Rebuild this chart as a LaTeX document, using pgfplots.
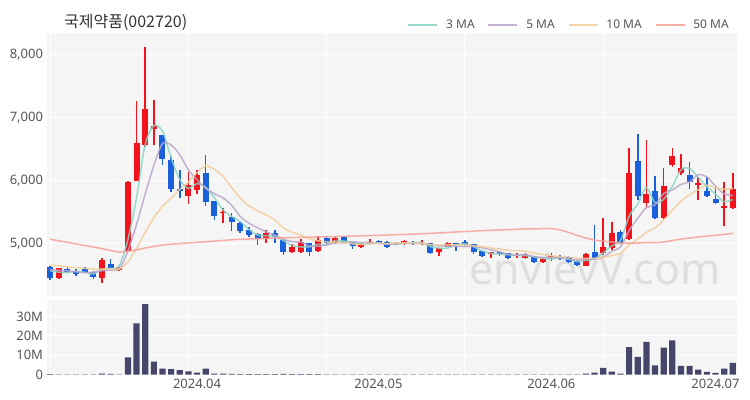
\documentclass[border=0pt]{standalone}
\usepackage{pgfplots}
\pgfplotsset{compat=1.18}
\usepackage{pgfplotstable}
\usepackage{fontspec}
\setmainfont{Noto Sans}
\newfontfamily\krfont{Noto Sans CJK KR}

\definecolor{upred}{HTML}{F2131C}
\definecolor{downblue}{HTML}{1A5FDB}
\definecolor{volbar}{HTML}{46466B}
\definecolor{panel}{HTML}{F5F5F5}
\definecolor{ticktext}{HTML}{555555}
\definecolor{titletext}{HTML}{333333}
\definecolor{wmark}{HTML}{DEDEDE}
\definecolor{maA}{HTML}{86D3C4}
\definecolor{maB}{HTML}{B9A4CA}
\definecolor{maC}{HTML}{F2CE9A}
\definecolor{maD}{HTML}{F6A096}

% daily candles: index, open, high, low, close, volume (millions)
\pgfplotstableread{
i o h l c v
0 4620 4640 4420 4450 0.15
1 4445 4610 4425 4600 0.12
2 4590 4620 4540 4550 0.08
3 4560 4590 4485 4515 0.08
4 4590 4620 4520 4550 0.08
5 4550 4560 4425 4470 0.10
6 4450 4760 4375 4730 0.50
7 4665 4745 4590 4600 0.30
8 4580 4620 4560 4600 0.10
9 4880 5990 4870 5980 8.9
10 5995 7270 5990 6600 26.5
11 6565 8130 6540 7140 36.6
12 6815 7280 6565 6870 6.7
13 6725 6730 6250 6350 3.0
14 6330 6390 5810 5865 2.8
15 5860 6165 5720 5830 2.3
16 5755 6140 5630 5930 1.6
17 5850 6165 5780 6090 1.0
18 6125 6405 5600 5660 3.0
19 5670 5680 5375 5435 0.4
20 5480 5560 5330 5500 0.4
21 5415 5480 5200 5345 0.3
22 5320 5340 5170 5195 0.2
23 5210 5265 5105 5130 0.2
24 5150 5160 4975 5065 0.2
25 5065 5210 5010 5170 0.2
26 5170 5210 5000 5095 0.2
27 5055 5060 4815 4865 0.3
28 4865 4990 4850 4935 0.15
29 4865 5065 4850 5025 0.2
30 5000 5010 4800 4865 0.2
31 4880 5110 4860 5055 0.2
32 5080 5115 4970 5000 0.1
33 5000 5100 4990 5080 0.1
34 5095 5110 5010 5025 0.1
35 5025 5030 4905 4955 0.1
36 4935 5000 4930 4990 0.08
37 5000 5065 4990 5025 0.08
38 5040 5050 4990 5000 0.06
39 5025 5030 4935 4945 0.06
40 4985 5020 4980 5005 0.05
41 4990 5055 4980 5040 0.06
42 5010 5040 4975 4985 0.05
43 4985 5055 4980 5010 0.05
44 5000 5010 4830 4840 0.1
45 4860 4925 4800 4920 0.08
46 4945 5020 4940 5010 0.06
47 5000 5005 4875 4990 0.05
48 5025 5055 4965 4975 0.05
49 4985 4990 4830 4865 0.08
50 4875 4880 4795 4800 0.08
51 4825 4865 4770 4855 0.06
52 4865 4870 4800 4830 0.05
53 4840 4850 4750 4770 0.06
54 4790 4840 4765 4815 0.05
55 4770 4850 4750 4825 0.06
56 4790 4795 4700 4705 0.07
57 4700 4760 4680 4750 0.06
58 4775 4840 4718 4790 0.08
59 4780 4810 4740 4760 0.05
60 4775 4790 4695 4705 0.06
61 4720 4730 4640 4655 0.08
62 4640 4840 4630 4825 0.4
63 4860 5290 4750 4770 1.0
64 4840 5400 4810 4945 3.4
65 4920 5340 4890 5170 1.5
66 5185 5210 5000 5010 0.5
67 5065 6510 5050 6115 14.2
68 6315 6740 5690 5755 9.2
69 5645 6645 5560 5785 17.0
70 5835 6070 5380 5400 4.7
71 5400 6195 5380 5915 14.0
72 6245 6510 6220 6390 17.7
73 6125 6430 6090 6205 4.5
74 6090 6300 5860 5980 4.5
75 5930 6060 5690 5965 2.5
76 5840 6060 5735 5755 1.3
77 5700 5910 5625 5635 0.9
78 5560 5980 5275 5595 3.1
79 5555 6125 5550 5860 6.0
}\candles

% moving averages of the close
\pgfplotstableread{
i ma3 ma5 ma10 ma50
0 4560 4580 4650 5065
1 4540 4570 4640 5040
2 4533 4560 4625 5015
3 4555 4545 4610 4990
4 4538 4533 4600 4965
5 4512 4537 4590 4940
6 4583 4563 4590 4915
7 4600 4573 4590 4885
8 4643 4590 4590 4860
9 5060 4876 4705 4870
10 5727 5302 4920 4895
11 6573 5784 5174 4925
12 6870 6238 5406 4950
13 6787 6588 5589 4970
14 6362 6565 5721 4985
15 6015 6411 5857 4995
16 5875 6169 5977 5005
17 5950 6013 6126 5015
18 5893 5875 6232 5025
19 5728 5789 6177 5035
20 5532 5723 6067 5045
21 5427 5606 5888 5055
22 5347 5427 5720 5062
23 5223 5321 5598 5068
24 5130 5247 5518 5073
25 5122 5181 5452 5078
26 5110 5131 5369 5082
27 5043 5065 5246 5086
28 4965 5026 5174 5090
29 4942 5018 5133 5094
30 4942 4957 5069 5097
31 4982 4949 5040 5100
32 4973 4976 5021 5104
33 5045 5005 5016 5107
34 5035 5005 5012 5111
35 5020 5023 4990 5115
36 4990 5010 4980 5119
37 4990 5015 4996 5123
38 5005 4999 5002 5127
39 4990 4983 4994 5131
40 4983 4993 5008 5136
41 4997 5003 5007 5141
42 5010 4995 5005 5146
43 5012 4997 4998 5152
44 4945 4976 4980 5158
45 4923 4959 4976 5165
46 4923 4953 4978 5172
47 4973 4954 4975 5180
48 4992 4947 4972 5187
49 4943 4952 4964 5194
50 4880 4928 4944 5201
51 4840 4897 4925 5207
52 4828 4865 4910 5212
53 4818 4824 4886 5217
54 4805 4814 4883 5223
55 4803 4819 4874 5230
56 4782 4789 4843 5229
57 4760 4773 4819 5232
58 4748 4777 4801 5236
59 4767 4766 4790 5212
60 4752 4742 4781 5174
61 4707 4732 4761 5124
62 4728 4747 4760 5083
63 4750 4743 4760 5051
64 4847 4780 4773 5033
65 4962 4873 4808 5020
66 5042 4944 4838 5001
67 5432 5202 4975 5002
68 5627 5399 5071 5004
69 5885 5567 5174 5011
70 5647 5613 5243 5009
71 5700 5794 5369 5020
72 5902 5849 5526 5044
73 6170 5939 5669 5066
74 6192 5978 5773 5084
75 6050 6091 5852 5100
76 5900 6059 5927 5113
77 5785 5908 5879 5128
78 5662 5786 5863 5142
79 5697 5762 5870 5158
}\mavg

\pgfplotsset{
  panelbase/.style={
    scale only axis, width=690bp, anchor=south west,
    xmin=-0.4, xmax=79.45,
    axis background/.style={fill=panel},
    axis line style={draw=none},
    major tick length=0pt,
    tick style={draw=none},
    ymajorgrids,
    grid style={white, line width=1bp},
    extra x ticks={0,16,32,48,64},
    extra x tick labels={},
    extra x tick style={grid=major},
    ticklabel style={font=\fontsize{13bp}{15bp}\selectfont, text=ticktext},
    yticklabel style={anchor=east, inner sep=0pt, xshift=-3.5bp},
    /pgf/number format/assume math mode=true,
  },
  wick/.style={draw=none, forget plot,
    error bars/y dir=both, error bars/y explicit, error bars/error mark=none,
    error bars/error bar style={draw=#1, line width=1.6bp}},
  body/.style={draw=none, forget plot,
    error bars/y dir=both, error bars/y explicit, error bars/error mark=none,
    error bars/error bar style={draw=#1, line width=6bp}},
}

\begin{document}
\begin{tikzpicture}
\path (0,0) rectangle (750bp,400bp);

\node[anchor=west, inner sep=0pt, text=titletext,
      font=\krfont\fontsize{16bp}{18bp}\selectfont] at (64bp,377.3bp) {국제약품(002720)};

% price panel
\begin{axis}[panelbase, at={(46.7bp,104bp)}, height=262.7bp,
  ymin=4160, ymax=8345, ytick={5000,6000,7000,8000},
  xtick=\empty, scaled y ticks=false,
  /pgf/number format/1000 sep={,},
  legend columns=4,
  legend style={at={(0.9917,1.0316)}, anchor=east, draw=none, fill=none,
    inner sep=0pt, font=\fontsize{12bp}{14bp}\selectfont, text=ticktext,
    /tikz/every odd column/.append style={column sep=6bp},
    /tikz/every even column/.append style={column sep=11bp}},
  legend image code/.code={\draw[#1, line width=1.6bp] (0bp,0bp) -- (29bp,0bp);},
]
\node[inner sep=0pt, text=wmark, font=\bfseries\fontsize{43bp}{48bp}\selectfont]
  at (rel axis cs:0.795,0.103) {envievV.com};

\addplot[restrict expr to domain={\thisrow{c}-\thisrow{o}}{0:100000}, wick=upred]
  table[x=i, y=c, y error plus expr={\thisrow{h}-\thisrow{c}}, y error minus expr={\thisrow{c}-\thisrow{l}}] {\candles};
\addplot[restrict expr to domain={\thisrow{c}-\thisrow{o}}{0:100000}, body=upred]
  table[x=i, y=c, y error plus expr={0}, y error minus expr={\thisrow{c}-\thisrow{o}}] {\candles};
\addplot[restrict expr to domain={\thisrow{o}-\thisrow{c}}{0.5:100000}, wick=downblue]
  table[x=i, y=c, y error plus expr={\thisrow{h}-\thisrow{c}}, y error minus expr={\thisrow{c}-\thisrow{l}}] {\candles};
\addplot[restrict expr to domain={\thisrow{o}-\thisrow{c}}{0.5:100000}, body=downblue]
  table[x=i, y=c, y error plus expr={\thisrow{o}-\thisrow{c}}, y error minus expr={0}] {\candles};

\addplot[maA, line width=1.5bp, smooth, opacity=0.85] table[x=i, y=ma3] {\mavg};
\addlegendentry{3 MA}
\addplot[maB, line width=1.5bp, smooth, opacity=0.85] table[x=i, y=ma5] {\mavg};
\addlegendentry{5 MA}
\addplot[maC, line width=1.5bp, smooth, opacity=0.85] table[x=i, y=ma10] {\mavg};
\addlegendentry{10 MA}
\addplot[maD, line width=1.5bp, smooth, opacity=0.85] table[x=i, y=ma50] {\mavg};
\addlegendentry{50 MA}
\end{axis}

% volume panel
\begin{axis}[panelbase, at={(46.7bp,25.5bp)}, height=74.5bp,
  ymin=0, ymax=38.7, ytick={0,10,20,30}, yticklabels={0,10M,20M,30M},
  xtick={17,38,58,77}, xticklabels={2024.04,2024.05,2024.06,2024.07},
  xticklabel style={anchor=north, inner sep=0pt, yshift=-4.5bp},
]
\addplot[ybar, bar width=6.2bp, fill=volbar, draw=none] table[x=i, y=v] {\candles};
\end{axis}
\end{tikzpicture}
\end{document}
